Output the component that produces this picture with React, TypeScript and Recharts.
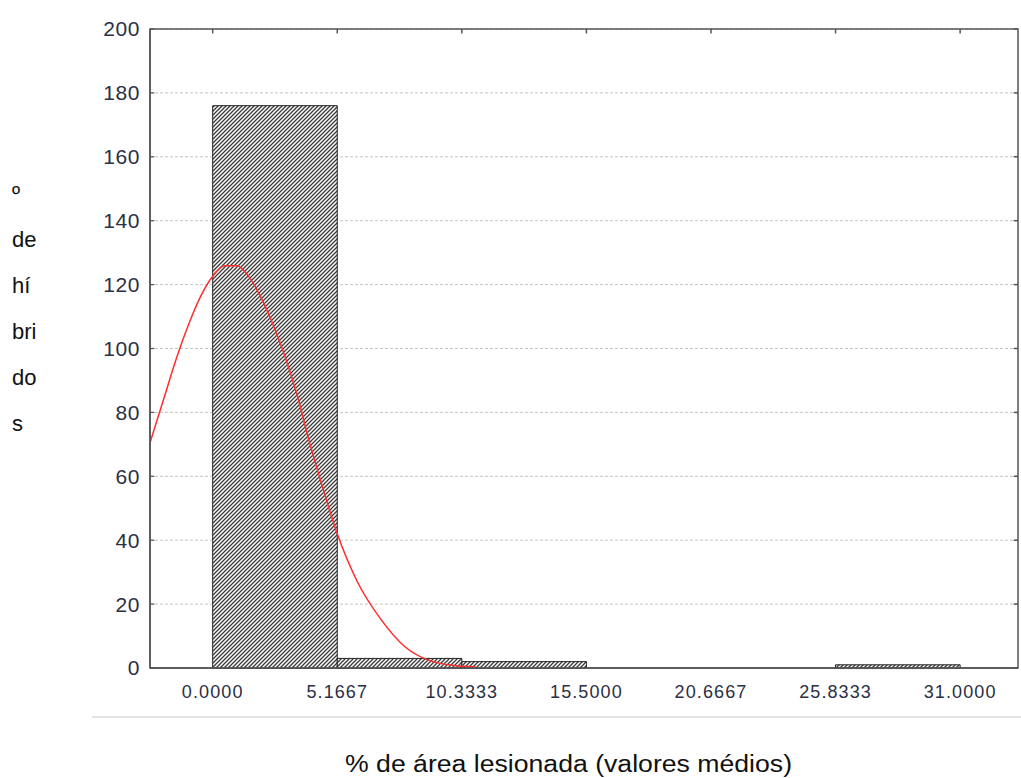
import { CartesianGrid, ComposedChart, Line, ReferenceArea, ReferenceLine, XAxis, YAxis } from 'recharts'

// histogram bins: % de área lesionada
const binStarts = [0, 5.1667, 10.3333, 15.5, 20.6667, 25.8333]
const binEnds = [5.1667, 10.3333, 15.5, 20.6667, 25.8333, 31]
const binCounts = [176, 3, 2, 0, 0, 1]

// expected normal curve
const curveX = [-2.6, -2, -1.5, -1, -0.5, 0, 0.5, 1, 1.5, 2, 2.5, 3, 3.5, 4, 4.5, 5.1667, 6, 7, 8, 9, 10, 10.9]
const curveY = [70.5, 85, 97, 107.5, 116.3, 122.6, 125.9, 125.9, 122.5, 116, 107.5, 97.5, 85.5, 71, 58, 42, 27, 15, 6.5, 2.3, 0.8, 0.4]

const xTicks = [0, 5.1667, 10.3333, 15.5, 20.6667, 25.8333, 31]
const yTicks = [0, 20, 40, 60, 80, 100, 120, 140, 160, 180, 200]
const yLabelParts = ['º', 'de', 'hí', 'bri', 'do', 's']

const xDomain = [-2.6, 33.4]
const yDomain = [0, 200]

const curve = curveX.map((x, i) => ({ x, y: curveY[i] }))
const bins = binStarts.map((start, i) => ({ start, end: binEnds[i], count: binCounts[i] }))

const font = '"Liberation Sans", Arial, sans-serif'
const tickColor = '#2b2f45'
const frame = '#555'

export default function App() {
  const [x0, x1] = xDomain
  const [y0, y1] = yDomain
  // inner tick length in axis units (~4px)
  const tx = (x1 - x0) * 0.005
  const ty = (y1 - y0) * 0.007
  return (
    <div style={{ position: 'absolute', left: 0, top: 0, width: 1021, height: 778, background: '#fff', fontFamily: font }}>
      <ComposedChart width={1021} height={778} data={curve} margin={{ top: 29, right: 3, left: 0, bottom: 80 }}>
        <defs>
          <pattern id="hatch" patternUnits="userSpaceOnUse" width="4" height="4">
            <rect width="4" height="4" fill="#fff" />
            <path d="M-1,1 l2,-2 M0,4 l4,-4 M3,5 l2,-2" stroke="#3a3a3a" strokeWidth="1.3" />
          </pattern>
        </defs>
        <CartesianGrid vertical={false} stroke="#c4c4c4" strokeDasharray="3 2" />
        <XAxis
          dataKey="x"
          type="number"
          domain={xDomain}
          ticks={xTicks}
          allowDataOverflow
          height={30}
          tickLine={false}
          tickSize={0}
          tickMargin={17}
          axisLine={{ stroke: frame, strokeWidth: 1.5 }}
          tickFormatter={(v: number) => v.toFixed(4)}
          tick={{ fill: tickColor, fontSize: 18, fontFamily: font, letterSpacing: 1.1 }}
        />
        <YAxis
          domain={yDomain}
          ticks={yTicks}
          allowDataOverflow
          width={150}
          tickLine={false}
          tickSize={0}
          tickMargin={10}
          axisLine={{ stroke: frame, strokeWidth: 1.5 }}
          tick={{ fill: tickColor, fontSize: 21, fontFamily: font, letterSpacing: 0.6 }}
        />
        <ReferenceArea x1={x0} x2={x1} y1={y0} y2={y1} fill="none" stroke={frame} strokeWidth={1.5} />
        {xTicks.map((t) => (
          <ReferenceLine
            key={'xt' + t}
            segment={[
              { x: t, y: y1 },
              { x: t, y: y1 - ty },
            ]}
            stroke={frame}
            strokeWidth={1.5}
          />
        ))}
        {yTicks.map((t) => (
          <ReferenceLine
            key={'yl' + t}
            segment={[
              { x: x0, y: t },
              { x: x0 + tx, y: t },
            ]}
            stroke={frame}
            strokeWidth={1.2}
          />
        ))}
        {yTicks.map((t) => (
          <ReferenceLine
            key={'yr' + t}
            segment={[
              { x: x1, y: t },
              { x: x1 - tx, y: t },
            ]}
            stroke={frame}
            strokeWidth={1.5}
          />
        ))}
        {bins
          .filter((b) => b.count > 0)
          .map((b) => (
            <ReferenceArea
              key={b.start}
              x1={b.start}
              x2={b.end}
              y1={0}
              y2={b.count}
              fill="url(#hatch)"
              fillOpacity={1}
              stroke="#222"
              strokeWidth={1}
            />
          ))}
        <Line
          type="monotone"
          dataKey="y"
          stroke="#ff2d2d"
          strokeWidth={1.5}
          dot={false}
          isAnimationActive={false}
        />
      </ComposedChart>

      <div style={{ position: 'absolute', left: 12, top: 171, fontSize: 22, lineHeight: '46px', color: '#111' }}>
        {yLabelParts.map((p) => (
          <div key={p}>{p}</div>
        ))}
      </div>

      <div style={{ position: 'absolute', left: 92, top: 716, width: 929, height: 2, background: '#e3e3e3' }} />

      <svg style={{ position: 'absolute', left: 0, top: 740 }} width={1021} height={38}>
        <text x={345} y={31.5} fontSize={23} fontFamily={font} fill="#111" textLength={447} lengthAdjust="spacingAndGlyphs">
          % de área lesionada (valores médios)
        </text>
      </svg>
    </div>
  )
}
